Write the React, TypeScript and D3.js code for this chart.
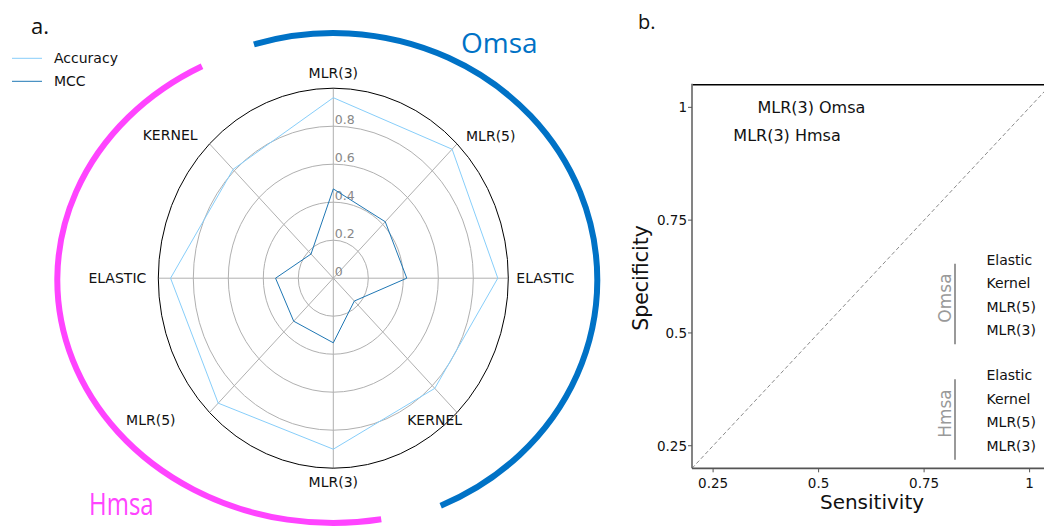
import React from 'react';
import * as d3 from 'd3';

// radar (panel a)
const axesLabels = ['MLR(3)', 'MLR(5)', 'ELASTIC', 'KERNEL', 'MLR(3)', 'MLR(5)', 'ELASTIC', 'KERNEL'];
const accuracy = [0.95, 0.96, 0.94, 0.82, 0.9, 0.93, 0.93, 0.81];
const mcc = [0.47, 0.42, 0.42, 0.17, 0.34, 0.32, 0.33, 0.18];
const radialTicks = [0, 0.2, 0.4, 0.6, 0.8];
const seriesNames = ['Accuracy', 'MCC'];
const groupNames = ['Omsa', 'Hmsa'];

// ROC-like panel (panel b)
const rocTicks = [0.25, 0.5, 0.75, 1];
const models = ['Elastic', 'Kernel', 'MLR(5)', 'MLR(3)'];
const groupBase = [0.506, 0.25];
const modelStep = 0.052;
const pointLabels = ['MLR(3) Omsa', 'MLR(3) Hmsa'];
const pointX = [0.355, 0.298];
const pointY = [1.0, 0.937];

const FONT = '"DejaVu Sans", sans-serif';
const TITLE_FONT = '"Open Sans", sans-serif';

export default function App() {
  // radar geometry (the source image is slightly stretched vertically)
  const cx = 333.3;
  const cy = 278.2;
  const rX = d3.scaleLinear().domain([0, 1]).range([0, 175]);
  const rY = d3.scaleLinear().domain([0, 1]).range([0, 190]);
  const angle = (i: number) => (i * 2 * Math.PI) / axesLabels.length;
  const pt = (v: number, i: number): [number, number] => [
    cx + rX(v) * Math.sin(angle(i)),
    cy - rY(v) * Math.cos(angle(i)),
  ];
  const line = d3.line<number>()
    .x((d, i) => pt(d, i)[0])
    .y((d, i) => pt(d, i)[1])
    .curve(d3.curveLinearClosed);

  // label placement per spoke
  const labelPos = [
    { f: 1.08, dx: 0, dy: 5, anchor: 'middle' },
    { f: 1.0, dx: 9, dy: -3, anchor: 'start' },
    { f: 1.0, dx: 8, dy: 5, anchor: 'start' },
    { f: 1.0, dx: 5, dy: 12, anchor: 'end' },
    { f: 1.06, dx: 0, dy: 7, anchor: 'middle' },
    { f: 1.0, dx: -34, dy: 12, anchor: 'end' },
    { f: 1.0, dx: -12, dy: 5, anchor: 'end' },
    { f: 1.0, dx: -12, dy: -4, anchor: 'end' },
  ];

  // outer group arcs, ellipses around radar centre
  const ellArc = (rx: number, ry: number, a0: number, a1: number, ecy: number) => {
    const r = (a: number) => (a * Math.PI) / 180;
    const x0 = cx + rx * Math.sin(r(a0));
    const y0 = ecy - ry * Math.cos(r(a0));
    const x1 = cx + rx * Math.sin(r(a1));
    const y1 = ecy - ry * Math.cos(r(a1));
    const large = a1 - a0 > 180 ? 1 : 0;
    return `M${x0},${y0} A${rx},${ry} 0 ${large} 1 ${x1},${y1}`;
  };

  // panel b scales
  const x = d3.scaleLinear().domain([0.2, 1.05]).range([692, 692 + 0.85 * 422]);
  const y = d3.scaleLinear().domain([0.2, 1.05]).range([468.3, 468.3 - 0.85 * 451.2]);
  const fmt = (v: number) => (v === 1 ? '1' : String(v));

  return (
    <svg width={1044} height={527} style={{ position: 'absolute', left: 0, top: 0, background: '#fff' }}>
      {/* panel a */}
      <text x={31} y={34} fontFamily={TITLE_FONT} fontSize={22} fill="#111">a.</text>

      {/* legend */}
      {seriesNames.map((s, i) => (
        <g key={s}>
          <line x1={12} x2={42} y1={58.3 + i * 23} y2={58.3 + i * 23}
            stroke={i === 0 ? '#87cefa' : '#1f77b4'} strokeWidth={1} />
          <text x={54} y={63.3 + i * 23} fontFamily={FONT} fontSize={14} fill="#111">{s}</text>
        </g>
      ))}

      {/* group arcs */}
      <path d={ellArc(264, 247, -17.5, 156, 280)} fill="none" stroke="#0072c6" strokeWidth={6} />
      <path d={ellArc(276, 243, 170, 331.6, 280)} fill="none" stroke="#ff44ff" strokeWidth={6} />
      <text x={461} y={53} fontFamily={TITLE_FONT} fontSize={28} fill="#0072c6">{groupNames[0]}</text>
      <text transform="translate(89,515) scale(1,1.32)" fontFamily={TITLE_FONT} fontSize={24} fill="#ff44ff">{groupNames[1]}</text>

      {/* rings */}
      {radialTicks.filter((t) => t > 0).map((t) => (
        <ellipse key={t} cx={cx} cy={cy} rx={rX(t)} ry={rY(t)} fill="none" stroke="#b0b0b0" strokeWidth={1} />
      ))}
      {axesLabels.map((_, i) => {
        const [px, py] = pt(1, i);
        return <line key={i} x1={cx} y1={cy} x2={px} y2={py} stroke="#b0b0b0" strokeWidth={1} />;
      })}
      <ellipse cx={cx} cy={cy} rx={rX(1)} ry={rY(1)} fill="none" stroke="#000" strokeWidth={1} />

      {radialTicks.map((t) => (
        <text key={t} x={cx + 1.5} y={cy - rY(t) - 2.5} fontFamily={FONT} fontSize={12.5} fill="#888">
          {t}
        </text>
      ))}

      <path d={line(accuracy) || ''} fill="none" stroke="#87cefa" strokeWidth={1} />
      <path d={line(mcc) || ''} fill="none" stroke="#1f77b4" strokeWidth={1} />

      {axesLabels.map((l, i) => {
        const p = labelPos[i];
        const [px, py] = pt(p.f, i);
        return (
          <text key={i} x={px + p.dx} y={py + p.dy} textAnchor={p.anchor as any}
            fontFamily={FONT} fontSize={14} fill="#111">{l}</text>
        );
      })}

      {/* panel b */}
      <text x={638} y={29} fontFamily={TITLE_FONT} fontSize={20} fill="#111">b.</text>

      <defs>
        <clipPath id="plotb">
          <rect x={x(0.2)} y={y(1.05)} width={x(1.05) - x(0.2)} height={y(0.2) - y(1.05)} />
        </clipPath>
      </defs>
      <line x1={x(0.2)} y1={y(0.2)} x2={x(1.05)} y2={y(1.05)} stroke="#8a8a8a" strokeWidth={1}
        strokeDasharray="4,2.5" clipPath="url(#plotb)" />

      {/* spines */}
      <line x1={x(0.2)} x2={1044} y1={y(1.05)} y2={y(1.05)} stroke="#000" strokeWidth={1.5} />
      <line x1={x(0.2)} x2={x(0.2)} y1={y(1.05) - 1} y2={y(0.2)} stroke="#777" strokeWidth={1.8} />
      <line x1={x(0.2)} x2={1044} y1={y(0.2)} y2={y(0.2)} stroke="#555" strokeWidth={1.8} />

      {rocTicks.map((t) => (
        <g key={'x' + t}>
          <line x1={x(t)} x2={x(t)} y1={y(0.2)} y2={y(0.2) + 4} stroke="#555" strokeWidth={1} />
          <text x={x(t)} y={y(0.2) + 20} textAnchor="middle" fontFamily={FONT} fontSize={13.5} fill="#111">{fmt(t)}</text>
        </g>
      ))}
      {rocTicks.map((t) => (
        <g key={'y' + t}>
          <line x1={x(0.2) - 4} x2={x(0.2)} y1={y(t)} y2={y(t)} stroke="#555" strokeWidth={1} />
          <text x={x(0.2) - 5} y={y(t) + 5} textAnchor="end" fontFamily={FONT} fontSize={13.5} fill="#111">{fmt(t)}</text>
        </g>
      ))}

      <text x={872} y={509} textAnchor="middle" fontFamily={FONT} fontSize={20} fill="#111">Sensitivity</text>
      <text transform="translate(648,278) rotate(-90)" textAnchor="middle" fontFamily={FONT} fontSize={20.5} fill="#111">Specificity</text>

      {pointLabels.map((l, i) => (
        <text key={l} x={x(pointX[i])} y={y(pointY[i])} dy="0.35em" fontFamily={FONT} fontSize={16} fill="#111">{l}</text>
      ))}

      {groupNames.map((g, gi) => {
        const top = groupBase[gi] + modelStep * (models.length - 1);
        return (
          <g key={g}>
            {models.map((m, mi) => (
              <text key={m} x={986.5} y={y(groupBase[gi] + modelStep * (models.length - 1 - mi))} dy="0.35em"
                fontFamily={FONT} fontSize={14} fill="#111">{m}</text>
            ))}
            <line x1={955} x2={955} y1={y(top) + 4} y2={y(groupBase[gi]) + 14} stroke="#999" strokeWidth={2} />
            <text transform={`translate(951,${(y(top) + y(groupBase[gi])) / 2 + 3}) rotate(-90)`} textAnchor="middle"
              fontFamily={FONT} fontSize={17} fill="#999">{g}</text>
          </g>
        );
      })}
    </svg>
  );
}
